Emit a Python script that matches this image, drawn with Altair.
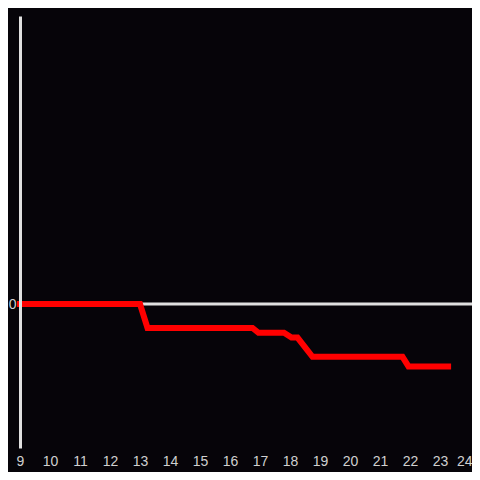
import altair as alt
import pandas as pd

hours = [9.0, 13.0, 13.25, 16.75, 16.95, 17.8, 18.05, 18.25, 18.75, 21.75, 21.95, 23.27]
values = [0, 0, -10, -10, -12, -12, -14, -14, -22, -22, -26, -26]
x_ticks = list(range(9, 25))

df = pd.DataFrame({"hour": hours, "value": values, "order": list(range(len(hours)))})

BG = "#060409"
AXIS = "#e0e0e0"
LABEL = "#d0d0d0"

x_scale = alt.Scale(domain=[9, 9 + 452 / 30], nice=False, zero=False)
y_scale = alt.Scale(domain=[-60, 120], nice=False, zero=False)

y_axis = alt.Axis(
    values=[0],
    domain=True,
    domainColor=AXIS,
    domainWidth=3,
    ticks=False,
    grid=False,
    labelColor=LABEL,
    labelFontSize=14,
    labelPadding=4,
    zindex=2,
)

zero_rule = alt.Chart(pd.DataFrame({"z": [0]})).mark_rule(
    color=AXIS, strokeWidth=3
).encode(y=alt.Y("z:Q", scale=y_scale, axis=y_axis, title=None))

line = alt.Chart(df).mark_line(
    color="#ff0000", strokeWidth=6, strokeCap="square", strokeJoin="miter"
).encode(
    x=alt.X(
        "hour:Q",
        scale=x_scale,
        title=None,
        axis=alt.Axis(
            values=x_ticks,
            domain=False,
            ticks=False,
            grid=False,
            labelColor=LABEL,
            labelFontSize=14,
            labelPadding=6,
            labelFlush=False,
            labelOverlap=False,
            labelAlign={"expr": "datum.value >= 24 ? 'right' : 'center'"},
            labelOffset={"expr": "datum.value >= 24 ? 2 : 0"},
            format="d",
        ),
    ),
    y=alt.Y("value:Q", scale=y_scale, title=None, axis=y_axis),
    order="order:Q",
)

chart = (
    alt.layer(zero_rule, line)
    .properties(
        width=452,
        height=432,
        background=BG,
        padding={"left": 12, "top": 8, "right": 0, "bottom": 24},
        autosize=alt.AutoSizeParams(type="none"),
    )
    .configure_view(stroke=None)
)

chart.save("out.html", embed_options={"renderer": "svg", "actions": False})
